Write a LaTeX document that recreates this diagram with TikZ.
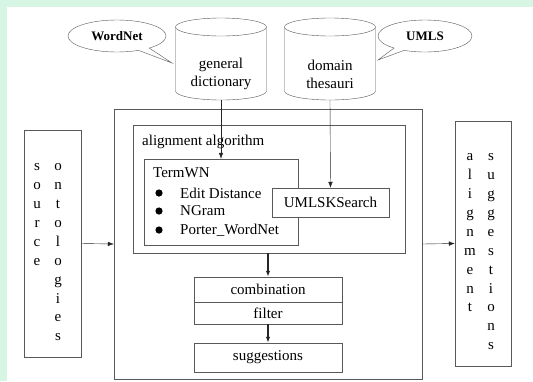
\documentclass[tikz,border=0pt]{standalone}
\usepackage{fontspec}
\setmainfont{Liberation Serif}
\usetikzlibrary{shapes.geometric,shapes.callouts,arrows.meta}
\definecolor{mint}{RGB}{214,245,227}
\tikzset{
    box/.style={draw=black!65, fill=white, inner sep=0pt},
    dbline/.style={draw=black!65, fill=white},
    dbtext/.style={align=center, inner sep=0pt, font=\fontsize{15}{18}\selectfont},
    bubble/.style={ellipse callout, draw=black!65, fill=white, inner sep=0pt,
        minimum height=32pt, font=\bfseries\fontsize{13}{15}\selectfont},
    vtext/.style={align=center, anchor=north, inner sep=0pt,
        font=\fontsize{15}{18.9}\selectfont},
    txt/.style={anchor=west, inner sep=0pt, font=\fontsize{15}{18}\selectfont},
    arr/.style={-{Latex[length=6pt,width=4.5pt]}, black!85},
}
\begin{document}
\begin{tikzpicture}[x=1pt, y=-1pt]
        \useasboundingbox (0,0) rectangle (533,381);
        \fill[mint] (0,0) rectangle (533,381);
        \fill[white] (7,7) rectangle (533,381);

        % resources
        \foreach \x/\n in {221/gendict, 330/domthes} {
            \draw[dbline] (\x-45.5,27) -- (\x-45.5,91)
                arc[start angle=180, end angle=0, x radius=45.5, y radius=9]
                -- (\x+45.5,27)
                arc[start angle=0, end angle=-180, x radius=45.5, y radius=9] -- cycle;
            \draw[dbline] (\x-45.5,27)
                arc[start angle=180, end angle=0, x radius=45.5, y radius=9];
            \coordinate (\n) at (\x,100);
        }
        \node[dbtext] (gendictlbl) at (221,74) {general\\dictionary};
        \node[dbtext] (domthesbl) at (330,74) {domain\\thesauri};
        \node[bubble, minimum width=98pt, callout absolute pointer={(172,63)}]
            (wordnet) at (117,36) {WordNet};
        \node[bubble, minimum width=94pt, callout absolute pointer={(378,60)}]
            (umls) at (425,36) {UMLS};

        % outer boxes
        \node[box, minimum width=308pt, minimum height=270pt] (main) at (268,244) {};
        \node[box, minimum width=57pt, minimum height=227pt] (src) at (52.5,243.5) {};
        \node[box, minimum width=56pt, minimum height=245pt] (out) at (483,243.5) {};
        \node[vtext] (srcA) at (37,163.5) {s\\o\\u\\r\\c\\e};
        \node[vtext] (srcB) at (58,163.5) {o\\n\\t\\o\\l\\o\\g\\i\\e\\s};
        \node[vtext] (outA) at (470,153.5) {a\\l\\i\\g\\n\\m\\e\\n\\t};
        \node[vtext] (outB) at (491,153.5) {s\\u\\g\\g\\e\\s\\t\\i\\o\\n\\s};

        % alignment algorithm
        \node[box, minimum width=272pt, minimum height=128pt] (algo) at (269,189) {};
        \node[txt] (algolbl) at (142,142) {alignment algorithm};
        \node[box, minimum width=154pt, minimum height=86pt] (termwn) at (221,202) {};
        \node[txt] (termlbl) at (153,173) {TermWN};
        \foreach \y in {193,211,230}
            \fill (159,\y) circle (3.6pt);
        \node[txt] (edit) at (180,193) {Edit Distance};
        \node[txt] (ngram) at (180,211) {NGram};
        \node[txt] (porter) at (180,230) {Porter\textunderscore WordNet};
        \node[box, minimum width=117pt, minimum height=29pt, font=\fontsize{15}{18}\selectfont]
            (umlsk) at (330.5,202.5) {UMLSKSearch};

        % combination, filter, suggestions
        \node[box, minimum width=148pt, minimum height=25pt, font=\fontsize{15}{18}\selectfont]
            (comb) at (268,289.5) {combination};
        \node[box, minimum width=148pt, minimum height=22pt, font=\fontsize{15}{18}\selectfont]
            (filter) at (268,313) {filter};
        \node[box, minimum width=148pt, minimum height=29pt, font=\fontsize{15}{18}\selectfont]
            (sugg) at (268,357.5) {suggestions};

        \draw[arr] (gendict) -- (termwn.north);
        \draw[arr] (domthes) -- (umlsk.north);
        \draw[arr, line width=1.5pt] (algo.south -| comb.north) -- (comb.north);
        \draw[arr, line width=1.5pt] (filter.south) -- (sugg.north);
        \draw[arr] (src.east) -- (main.west);
        \draw[arr] (main.east) -- (out.west);
    \end{tikzpicture}
\end{document}
